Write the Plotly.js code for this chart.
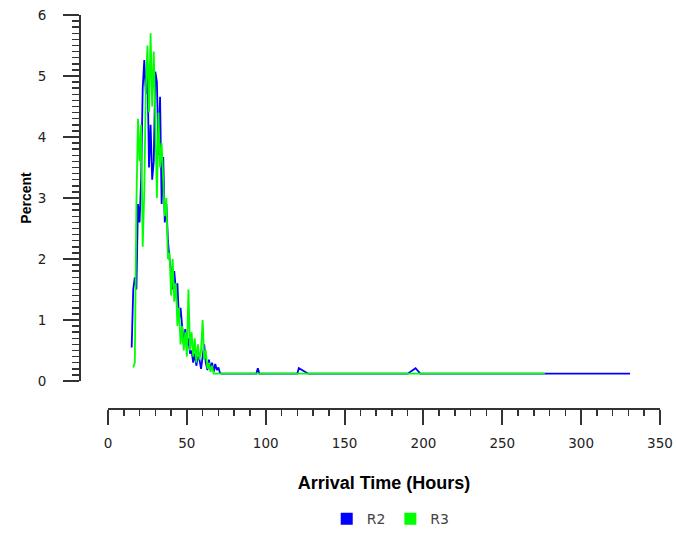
<!DOCTYPE html>
<html>
<head>
<meta charset="utf-8">
<script src="https://cdn.plot.ly/plotly-3.0.1.min.js"></script>
<style>html,body{margin:0;padding:0;background:#fff;}#chart{width:676px;height:534px;}</style>
</head>
<body>
<div id="chart"></div>
<script>
// R2 series (blue)
var r2Hours = [15,16,17,18,19,20,21,22,23,24,25,26,27,28,29,30,31,32,33,34,35,36,37,38,39,40,
  41,42,43,44,45,46,47,48,49,50,51,52,53,54,55,56,57,58,59,60,61,62,63,64,65,66,67,68,69,70,71,72,
  94,95,96,120,121,123,125,127,190,193,195,198,331];
var r2Percent = [0.55,1.5,1.7,1.5,2.9,2.6,3.3,4.8,5.26,4.7,5.2,3.5,4.2,3.3,3.6,5.07,4.9,3.7,4.66,2.9,3.67,2.6,2.9,2.3,2.0,1.8,
  1.5,1.8,1.5,1.6,1.0,1.2,0.9,0.6,0.85,0.55,0.7,0.45,0.5,0.3,0.45,0.25,0.4,0.35,0.2,0.45,0.6,0.3,0.18,0.35,0.2,0.3,0.15,0.28,0.18,0.22,0.13,0.12,
  0.12,0.21,0.12,0.12,0.21,0.18,0.15,0.12,0.12,0.17,0.21,0.12,0.12];

// R3 series (green)
var r3Hours = [16,17,18,19,20,21,22,23,24,25,26,27,28,29,30,31,32,33,34,35,36,37,38,39,40,
  41,42,43,44,45,46,47,48,49,50,51,52,53,54,55,56,57,58,59,60,61,62,63,64,65,66,67,277];
var r3Percent = [0.22,0.3,2.9,4.3,3.6,4.2,2.2,3.1,4.8,5.5,4.4,5.7,4.5,5.4,4.3,3.0,4.4,3.5,3.9,3.3,2.7,3.0,2.0,2.1,1.4,
  2.0,1.3,1.6,0.9,1.2,0.6,0.9,0.5,0.8,0.4,1.5,0.5,0.8,0.4,0.7,0.3,0.6,0.35,0.5,1.0,0.35,0.5,0.2,0.3,0.15,0.25,0.12,0.12];

var seriesNames = ['R2', 'R3'];
var xTickVals = [0,50,100,150,200,250,300,350];
var yTickVals = [0,1,2,3,4,5,6];

var blue = '#0000ff', green = '#00ff00';
var axisColor = '#333333';

var traces = [
  {x: r2Hours, y: r2Percent, type: 'scatter', mode: 'lines', name: seriesNames[0],
   line: {color: blue, width: 1.8}, showlegend: false, legendgroup: 'a'},
  {x: r3Hours, y: r3Percent, type: 'scatter', mode: 'lines', name: seriesNames[1],
   line: {color: green, width: 1.8}, showlegend: false, legendgroup: 'b'},
  {x: [null], y: [null], type: 'scatter', mode: 'markers', name: seriesNames[0],
   marker: {symbol: 'square', size: 12, color: blue}, legendgroup: 'a'},
  {x: [null], y: [null], type: 'scatter', mode: 'markers', name: seriesNames[1],
   marker: {symbol: 'square', size: 12, color: green}, legendgroup: 'b'}
];

var layout = {
  width: 676, height: 534,
  margin: {l: 80, r: 16, t: 15, b: 125, autoexpand: false},
  paper_bgcolor: '#ffffff', plot_bgcolor: '#ffffff',
  showlegend: true,
  legend: {orientation: 'h', xref: 'container', x: 0.578, xanchor: 'center',
    yref: 'container', y: 0.028, yanchor: 'middle',
    font: {family: 'DejaVu Sans', size: 14, color: '#444444'}, itemwidth: 30, tracegroupgap: 0},
  xaxis: {
    domain: [0.0483, 1], anchor: 'free', position: 0, automargin: false,
    range: [0, 350], tickvals: xTickVals, ticktext: xTickVals.map(String),
    showgrid: false, zeroline: false,
    showline: true, linecolor: axisColor, linewidth: 2,
    ticks: 'outside', ticklen: 15, tickwidth: 2, tickcolor: axisColor,
    minor: {dtick: 10, tick0: 0, ticks: 'outside', ticklen: 6, tickwidth: 1.5, tickcolor: axisColor, showgrid: false},
    tickfont: {family: 'DejaVu Sans', size: 13.5, color: '#222222'},
    ticklabelstandoff: 7,
    title: {text: 'Arrival Time (Hours)', font: {family: 'Liberation Sans', size: 18, color: '#000000', weight: 'bold'}, standoff: 25}
  },
  yaxis: {
    domain: [0.0711, 1], anchor: 'free', position: 0, automargin: false,
    range: [0, 6], tickvals: yTickVals, ticktext: yTickVals.map(String),
    showgrid: false, zeroline: false,
    showline: true, linecolor: axisColor, linewidth: 2,
    ticks: 'outside', ticklen: 16, tickwidth: 2, tickcolor: axisColor,
    minor: {dtick: 0.1, tick0: 0, ticks: 'outside', ticklen: 7, tickwidth: 1.5, tickcolor: axisColor, showgrid: false},
    tickfont: {family: 'DejaVu Sans', size: 13.5, color: '#222222'},
    ticklabelstandoff: 14,
    title: {text: 'Percent', font: {family: 'Liberation Sans', size: 14, color: '#000000', weight: 'bold'}, standoff: 2}
  }
};

Plotly.newPlot('chart', traces, layout, {displayModeBar: false, staticPlot: true});
</script>
</body>
</html>
